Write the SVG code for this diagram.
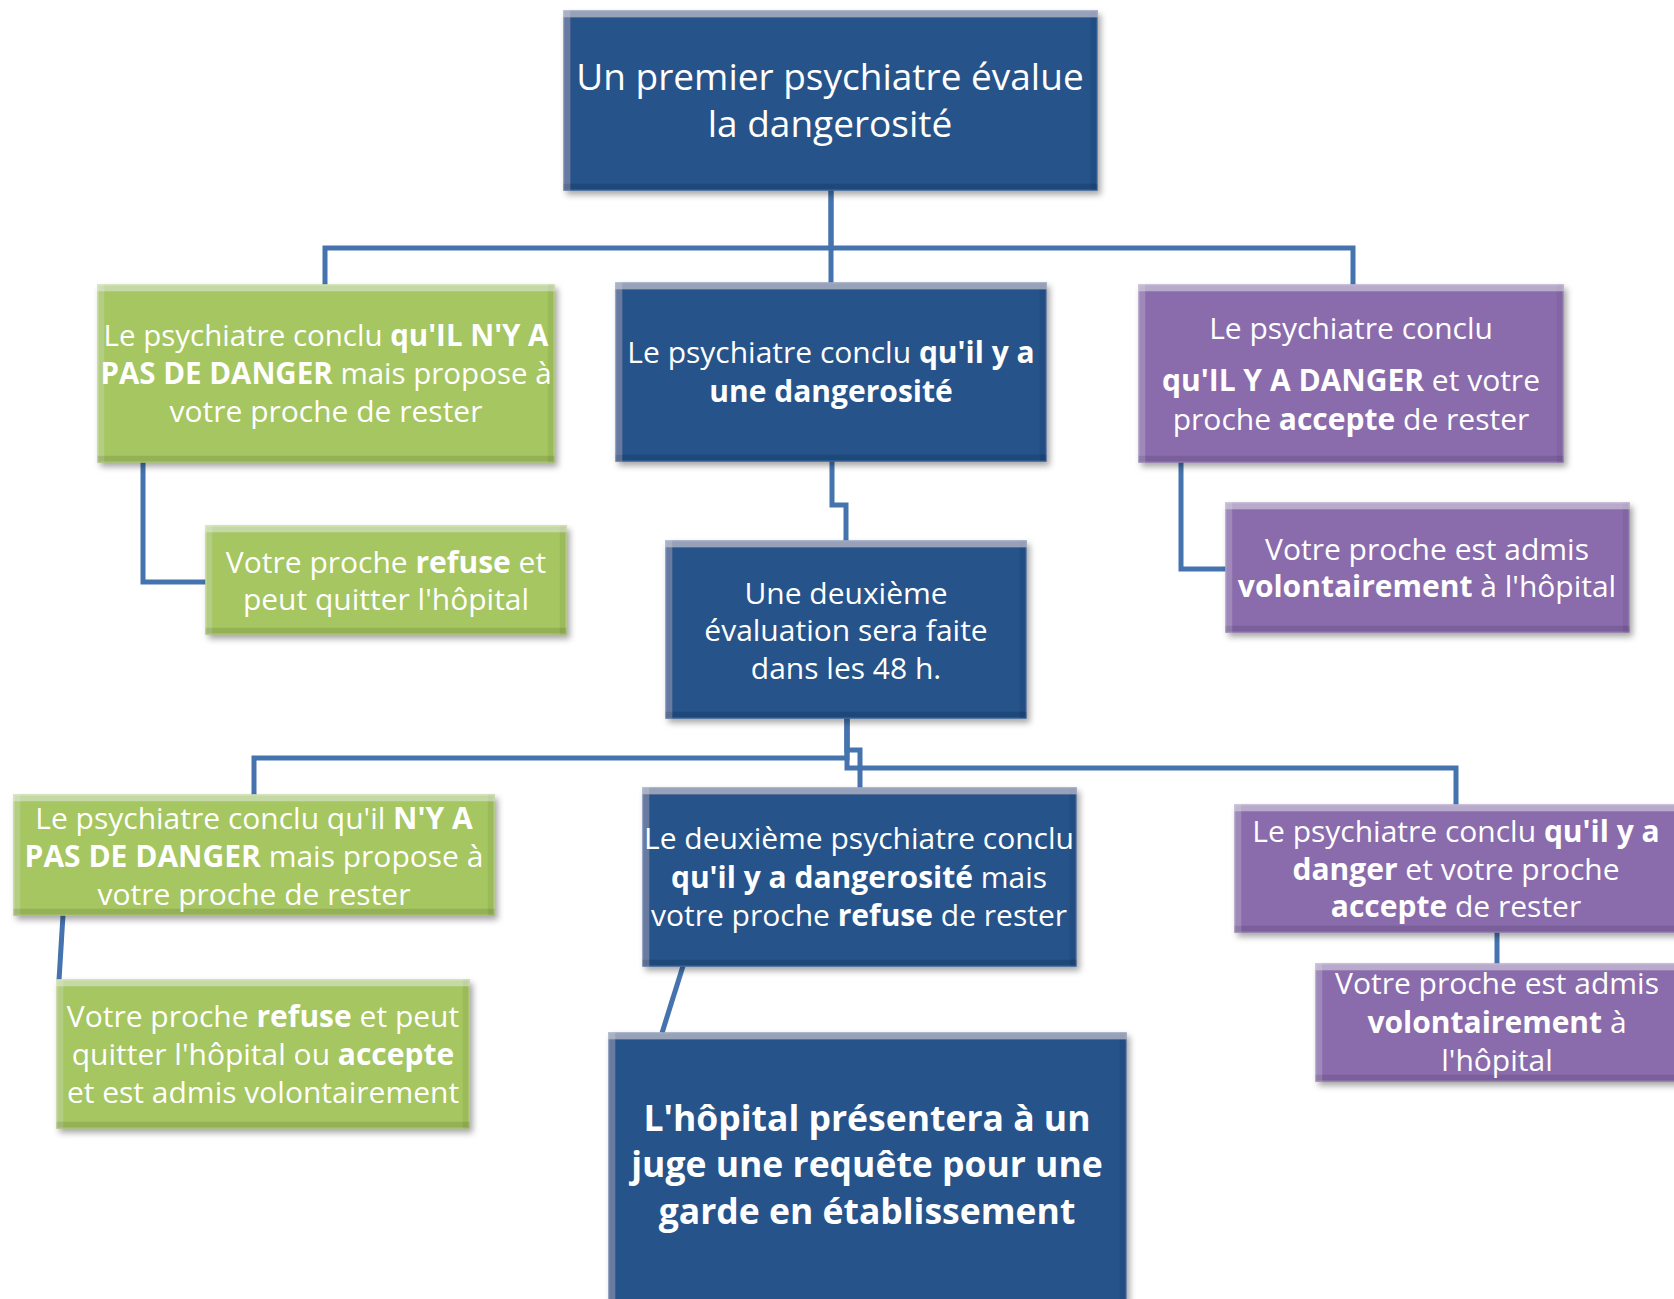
<svg xmlns="http://www.w3.org/2000/svg" width="1674" height="1299" viewBox="0 0 1674 1299">
<defs>
<filter id="bevel" x="-5%" y="-5%" width="112%" height="115%">
<feGaussianBlur in="SourceAlpha" stdDeviation="3" result="blur"/>
<feOffset in="blur" dx="3" dy="4" result="sh"/>
<feFlood flood-color="#000" flood-opacity="0.35"/>
<feComposite in2="sh" operator="in" result="shadow"/>
<feOffset in="SourceAlpha" dx="0" dy="7" result="o1"/>
<feComposite in="SourceAlpha" in2="o1" operator="out" result="topBand"/>
<feFlood flood-color="#fff" flood-opacity="0.3"/>
<feComposite in2="topBand" operator="in" result="topHL"/>
<feOffset in="SourceAlpha" dx="7" dy="0" result="o2"/>
<feComposite in="SourceAlpha" in2="o2" operator="out" result="leftBand"/>
<feFlood flood-color="#fff" flood-opacity="0.12"/>
<feComposite in2="leftBand" operator="in" result="leftHL"/>
<feOffset in="SourceAlpha" dx="0" dy="-7" result="o3"/>
<feComposite in="SourceAlpha" in2="o3" operator="out" result="botBand"/>
<feFlood flood-color="#000" flood-opacity="0.22"/>
<feComposite in2="botBand" operator="in" result="botSh"/>
<feOffset in="SourceAlpha" dx="-7" dy="0" result="o4"/>
<feComposite in="SourceAlpha" in2="o4" operator="out" result="rightBand"/>
<feFlood flood-color="#000" flood-opacity="0.12"/>
<feComposite in2="rightBand" operator="in" result="rightSh"/>
<feMerge>
<feMergeNode in="shadow"/>
<feMergeNode in="SourceGraphic"/>
<feMergeNode in="leftHL"/>
<feMergeNode in="rightSh"/>
<feMergeNode in="topHL"/>
<feMergeNode in="botSh"/>
</feMerge>
</filter>
</defs>
<style>
.blue{fill:#27528A;stroke:#3C6BA6;stroke-width:1.5;filter:url(#bevel)}
.green{fill:#A5C660;stroke:#B8D478;stroke-width:1.5;filter:url(#bevel)}
.purple{fill:#8A6CAD;stroke:#9C82BE;stroke-width:1.5;filter:url(#bevel)}
text{font-family:"Open Sans","Noto Sans","DejaVu Sans",sans-serif;fill:#fff;text-anchor:middle;font-size:30px}
.big{font-size:37px}
.huge{font-size:35.5px;font-weight:bold}
.b{font-weight:bold}
.conn path{fill:none;stroke:#4573AE;stroke-width:5}
</style>
<rect width="1674" height="1299" fill="#fff"/>
<g class="conn" id="connectors">
<path d="M831,190 V248 H325 V285"/>
<path d="M831,190 V283"/>
<path d="M831,248 H1353 V285"/>
<path d="M143,462 V582 H206"/>
<path d="M832,461 V505 H846 V541"/>
<path d="M1181,462 V569 H1226"/>
<path d="M847,718 V758 H254 V795"/>
<path d="M847,718 V750 H860 V788"/>
<path d="M847,718 V768 H1456 V805"/>
<path d="M63,915 L59,980"/>
<path d="M683,966 L662,1033"/>
<path d="M1497,932 V964"/>
</g>
<g id="n1">
<rect class="blue" x="564" y="11" width="533" height="179"/>
<text class="big" x="830" y="90">Un premier psychiatre évalue</text>
<text class="big" x="830" y="137">la dangerosité</text>
</g>
<g id="n2">
<rect class="green" x="98" y="285" width="456" height="177"/>
<text x="326" y="346" style="font-size:29.5px">Le psychiatre conclu <tspan class="b">qu'IL N'Y A</tspan></text>
<text x="326" y="384" style="font-size:29.5px"><tspan class="b">PAS DE DANGER</tspan> mais propose à</text>
<text x="326" y="422">votre proche de rester</text>
</g>
<g id="n3">
<rect class="green" x="206" y="526" width="360" height="108"/>
<text x="386" y="573">Votre proche <tspan class="b">refuse</tspan> et</text>
<text x="386" y="610">peut quitter l'hôpital</text>
</g>
<g id="n4">
<rect class="blue" x="616" y="283" width="430" height="178"/>
<text x="831" y="363">Le psychiatre conclu <tspan class="b">qu'il y a</tspan></text>
<text x="831" y="402" class="b">une dangerosité</text>
</g>
<g id="n5">
<rect class="purple" x="1139" y="285" width="424" height="177"/>
<text x="1351" y="339">Le psychiatre conclu</text>
<text x="1351" y="391"><tspan class="b">qu'IL Y A DANGER</tspan> et votre</text>
<text x="1351" y="430">proche <tspan class="b">accepte</tspan> de rester</text>
</g>
<g id="n6">
<rect class="purple" x="1226" y="503" width="403" height="129"/>
<text x="1427" y="560">Votre proche est admis</text>
<text x="1427" y="597"><tspan class="b">volontairement</tspan> à l'hôpital</text>
</g>
<g id="n7">
<rect class="blue" x="666" y="541" width="360" height="177"/>
<text x="846" y="604">Une deuxième</text>
<text x="846" y="641">évaluation sera faite</text>
<text x="846" y="679">dans les 48 h.</text>
</g>
<g id="n8">
<rect class="green" x="14" y="795" width="480" height="120"/>
<text x="254" y="829">Le psychiatre conclu qu'il <tspan class="b">N'Y A</tspan></text>
<text x="254" y="867"><tspan class="b">PAS DE DANGER</tspan> mais propose à</text>
<text x="254" y="905">votre proche de rester</text>
</g>
<g id="n9">
<rect class="green" x="57" y="980" width="412" height="148"/>
<text x="263" y="1027">Votre proche <tspan class="b">refuse</tspan> et peut</text>
<text x="263" y="1065">quitter l'hôpital ou <tspan class="b">accepte</tspan></text>
<text x="263" y="1103">et est admis volontairement</text>
</g>
<g id="n10">
<rect class="blue" x="643" y="788" width="433" height="178"/>
<text x="859" y="849">Le deuxième psychiatre conclu</text>
<text x="859" y="888"><tspan class="b">qu'il y a dangerosité</tspan> mais</text>
<text x="859" y="926">votre proche <tspan class="b">refuse</tspan> de rester</text>
</g>
<g id="n11">
<rect class="blue" x="609" y="1033" width="517" height="285"/>
<text class="huge" x="867" y="1131">L'hôpital présentera à un</text>
<text class="huge" x="867" y="1177">juge une requête pour une</text>
<text class="huge" x="867" y="1224">garde en établissement</text>
</g>
<g id="n12">
<rect class="purple" x="1235" y="805" width="450" height="127"/>
<text x="1456" y="842">Le psychiatre conclu <tspan class="b">qu'il y a</tspan></text>
<text x="1456" y="880"><tspan class="b">danger</tspan> et votre proche</text>
<text x="1456" y="917"><tspan class="b">accepte</tspan> de rester</text>
</g>
<g id="n13">
<rect class="purple" x="1316" y="964" width="370" height="117"/>
<text x="1497" y="994">Votre proche est admis</text>
<text x="1497" y="1033"><tspan class="b">volontairement</tspan> à</text>
<text x="1497" y="1071">l'hôpital</text>
</g>
</svg>
